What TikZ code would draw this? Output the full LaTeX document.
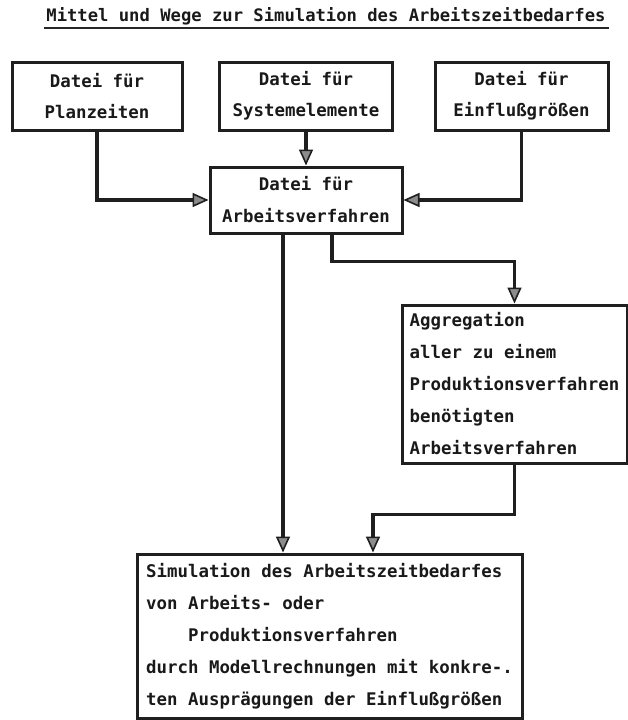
\documentclass[tikz,border=0pt]{standalone}
\usepackage{fontspec}
\newfontfamily\typefont{DejaVu Sans Mono}
\usetikzlibrary{arrows.meta,calc}

\begin{document}
\begin{tikzpicture}[x=1pt,y=-1pt,
  every node/.style={inner sep=0pt},
  box/.style={draw=black!88, line width=3pt, fill=white, text=black!90,
    font={\typefont\bfseries\fontsize{17.4}{31}\selectfont}},
  wide/.style={font={\typefont\bfseries\fontsize{17.4}{32}\selectfont}},
  link/.style={draw=black!88, line width=3.2pt,
    -{Triangle[length=16pt,width=14pt,fill=black!45,line width=1.6pt]}},
]
\useasboundingbox (0,0) rectangle (628,720);

% heading
\node[font={\typefont\bfseries\fontsize{17.2}{20}\selectfont}, anchor=base, text=black!90]
  (title) at (326,21) {Mittel und Wege zur Simulation des Arbeitszeitbedarfes};
\draw[line width=2pt, black!85]
  ([xshift=-2pt,yshift=-7pt]title.base west) -- ([xshift=3pt,yshift=-7pt]title.base east);

% source files
\node[box, align=center, minimum width=170pt, minimum height=68pt]
  (plan) at (97,96) {Datei für\\Planzeiten};
\node[box, align=center, minimum width=173pt, minimum height=68pt]
  (sys) at (306,96) {Datei für\\Systemelemente};
\node[box, align=center, minimum width=173pt, minimum height=68pt]
  (einf) at (521.5,96) {Datei für\\Einflußgrößen};

% work-method file
\node[box, wide, align=center, minimum width=192pt, minimum height=66pt]
  (arb) at (306,200) {Datei für\\Arbeitsverfahren};

% aggregation
\node[box, wide, align=left, minimum width=225pt, minimum height=158pt]
  (agg) at (514.5,384) {Aggregation\\aller zu einem\\Produktionsverfahren\\benötigten\\Arbeitsverfahren};

% simulation
\node[box, wide, align=left, minimum width=385pt, minimum height=164pt]
  (sim) at (329.5,636) {Simulation des Arbeitszeitbedarfes\\
    von Arbeits- oder\\
    \phantom{mmmm}Produktionsverfahren\\
    durch Modellrechnungen mit konkre-.\\
    ten Ausprägungen der Einflußgrößen};

% connectors
\coordinate (c1) at (283,0);
\coordinate (c2) at (332,0);
\coordinate (c3) at (373,0);

\draw[link] (plan.south) |- (arb.west);
\draw[link] (sys.south) -- (arb.north);
\draw[link] (einf.south) |- (arb.east);
\draw[link] (c1 |- arb.south) -- (c1 |- sim.north);
\draw[link] (c2 |- arb.south) |- ($(agg.north)+(0,-42)$) -- (agg.north);
\draw[link] (agg.south) -- ++(0,50) -| (c3 |- sim.north);
\end{tikzpicture}
\end{document}
